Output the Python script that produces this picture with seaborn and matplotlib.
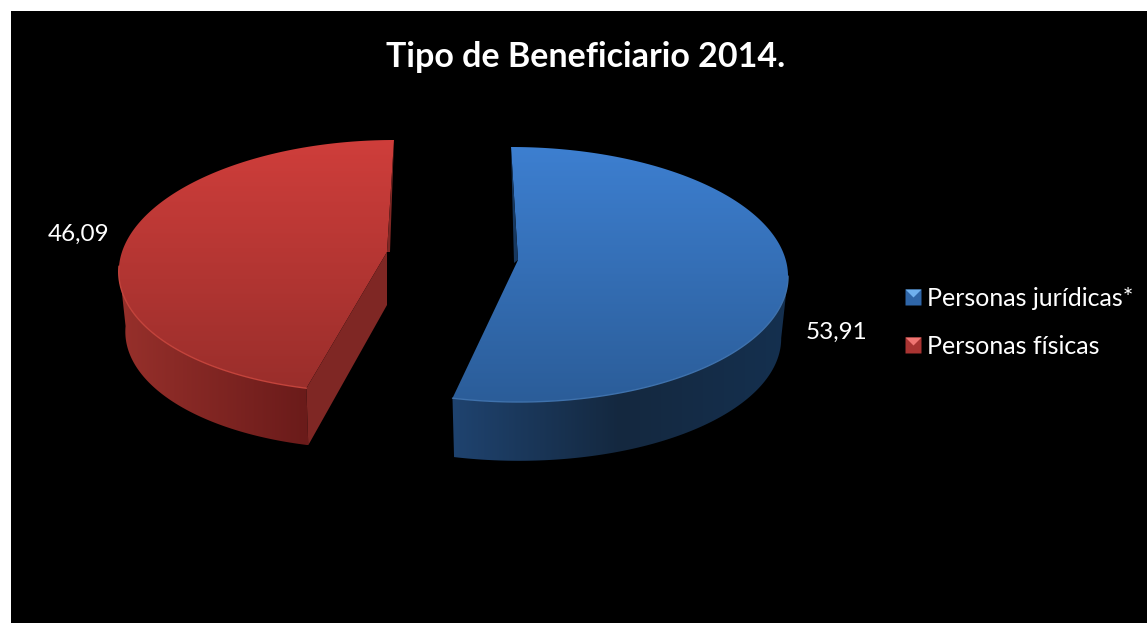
import numpy as np
import matplotlib
matplotlib.use("Agg")
import matplotlib.pyplot as plt
import seaborn as sns
from matplotlib.lines import Line2D
from matplotlib.patches import Polygon, Rectangle
from matplotlib.legend_handler import HandlerTuple

# data
categorias = ["Personas jurídicas*", "Personas físicas"]
valores = [53.91, 46.09]
etiquetas = ["53,91", "46,09"]
titulo = "Tipo de Beneficiario 2014."

sns.set_theme(style="white")
plt.rcParams["font.family"] = ["Lato", "DejaVu Sans"]

# colours for each slice: top surface, wall, inner face, rim, legend
estilo_azul = dict(top=["#3d7fd0", "#2b5d99"], wall=["#1f436f", "#14283f", "#15304f"],
                   inner="#17385f", rim="#3f72ad", mark=["#2f66a8", "#6fb0ee"], depth=62,
                   cx=515, cy=274.5, rx=273, ry=127.5, skew=-4, apex=(518, 260), lab=(837, 332))
estilo_rojo = dict(top=["#cf3e3b", "#9a2e2b"], wall=["#97302b", "#6a1b1a"],
                   inner="#7f2724", rim="#c4443c", mark=["#a93432", "#f07572"], depth=60,
                   cx=382, cy=266, rx=263, ry=126, skew=12, apex=(387, 252), lab=(79, 234))
estilos = [estilo_azul, estilo_rojo]


def pts(s, t, scale=1.0, dy=0.0):
    t = np.radians(t)
    vd = -np.sin(t)
    x = s["cx"] + s["rx"] * scale * np.cos(t) - s["skew"] * vd * scale
    y = s["cy"] + dy + s["ry"] * scale * vd
    return np.column_stack([x, y])


def gradient(ax, poly, colors, vertical=True):
    pal = np.array(sns.blend_palette(colors, 128))[:, :3]
    img = pal[:, None, :] if vertical else pal[None, :, :]
    x0, y0 = poly.min(axis=0)
    x1, y1 = poly.max(axis=0)
    im = ax.imshow(img, extent=(x0, x1, y1, y0), aspect="auto", origin="upper",
                   interpolation="bilinear", zorder=3)
    patch = Polygon(poly, closed=True, transform=ax.transData, fc="none", ec="none")
    ax.add_patch(patch)
    im.set_clip_path(patch)


fig = plt.figure(figsize=(11.47, 6.23), dpi=100, facecolor="white")
ax = fig.add_axes([0, 0, 1, 1])
ax.add_patch(Rectangle((11, 11), 1147, 623, fc="black", ec="none", zorder=1))

# slice angles come from the values, clockwise from 12 o'clock
fin = 90 - np.cumsum(valores) / np.sum(valores) * 360
inicio = np.r_[90, fin[:-1]]

for s, a, b in zip(estilos, inicio, fin):
    arc = np.linspace(a, b, 200)
    # only the part of the rim facing the viewer gets a wall
    front = arc[(np.sin(np.radians(arc)) <= 0)]
    apex = np.array(s["apex"], dtype=float)
    upper = pts(s, front)
    lower = pts(s, front, scale=0.975, dy=s["depth"])
    gradient(ax, np.vstack([upper, lower[::-1]]), s["wall"], vertical=False)

    # inner cut faces
    if s is estilo_rojo:
        tip, corner = pts(s, arc[0:1])[0], pts(s, arc[-1:])[0]
        tip_low = pts(s, arc[0:1], scale=0.975, dy=s["depth"])[0]
        face = [apex, tip, tip_low, apex + (0, 53)]
        sliver = [corner, apex, apex + (3, 0)]
        ax.add_patch(Polygon(face, closed=True, fc=s["inner"], ec="none", zorder=4))
    else:
        corner = pts(s, arc[0:1])[0]
        sliver = [corner, apex, apex + (-4, 3)]
    ax.add_patch(Polygon(sliver, closed=True, fc=s["inner"], ec="none", zorder=4))

    # top surface
    gradient(ax, np.vstack([pts(s, arc), apex]), s["top"])
    rim = pts(s, front)
    ax.plot(rim[:, 0], rim[:, 1], color=s["rim"], lw=1.0, zorder=5, solid_capstyle="round")

# labels
ax.text(586, 57, titulo, color="white", fontsize=24.5, fontweight="bold", ha="center", va="center", zorder=6)
for s, e in zip(estilos, etiquetas):
    ax.text(s["lab"][0], s["lab"][1], e, color="white", fontsize=17.5, ha="center", va="center", zorder=6)

tri_verts = [(-1, 1), (1, 1), (0, 0)]
handles = []
for s in estilos:
    base = Line2D([], [], marker="s", ls="none", ms=11.5, mfc=s["mark"][0], mec="none")
    tri = Line2D([], [], marker=tri_verts, ls="none", ms=11.5, mfc=s["mark"][1], mec="none")
    handles.append((base, tri))
leg = ax.legend(handles, categorias, handler_map={tuple: HandlerTuple(ndivide=1, pad=0)},
                frameon=False, fontsize=18, labelcolor="white", handlelength=0.95,
                handletextpad=0.08, labelspacing=1.0, loc="center left",
                bbox_to_anchor=(901, 322), bbox_transform=ax.transData, borderpad=0, borderaxespad=0)
leg.set_zorder(6)

ax.set_xlim(0, 1147)
ax.set_ylim(623, 0)
ax.axis("off")
fig.savefig("out.png", dpi=100, facecolor="white")
